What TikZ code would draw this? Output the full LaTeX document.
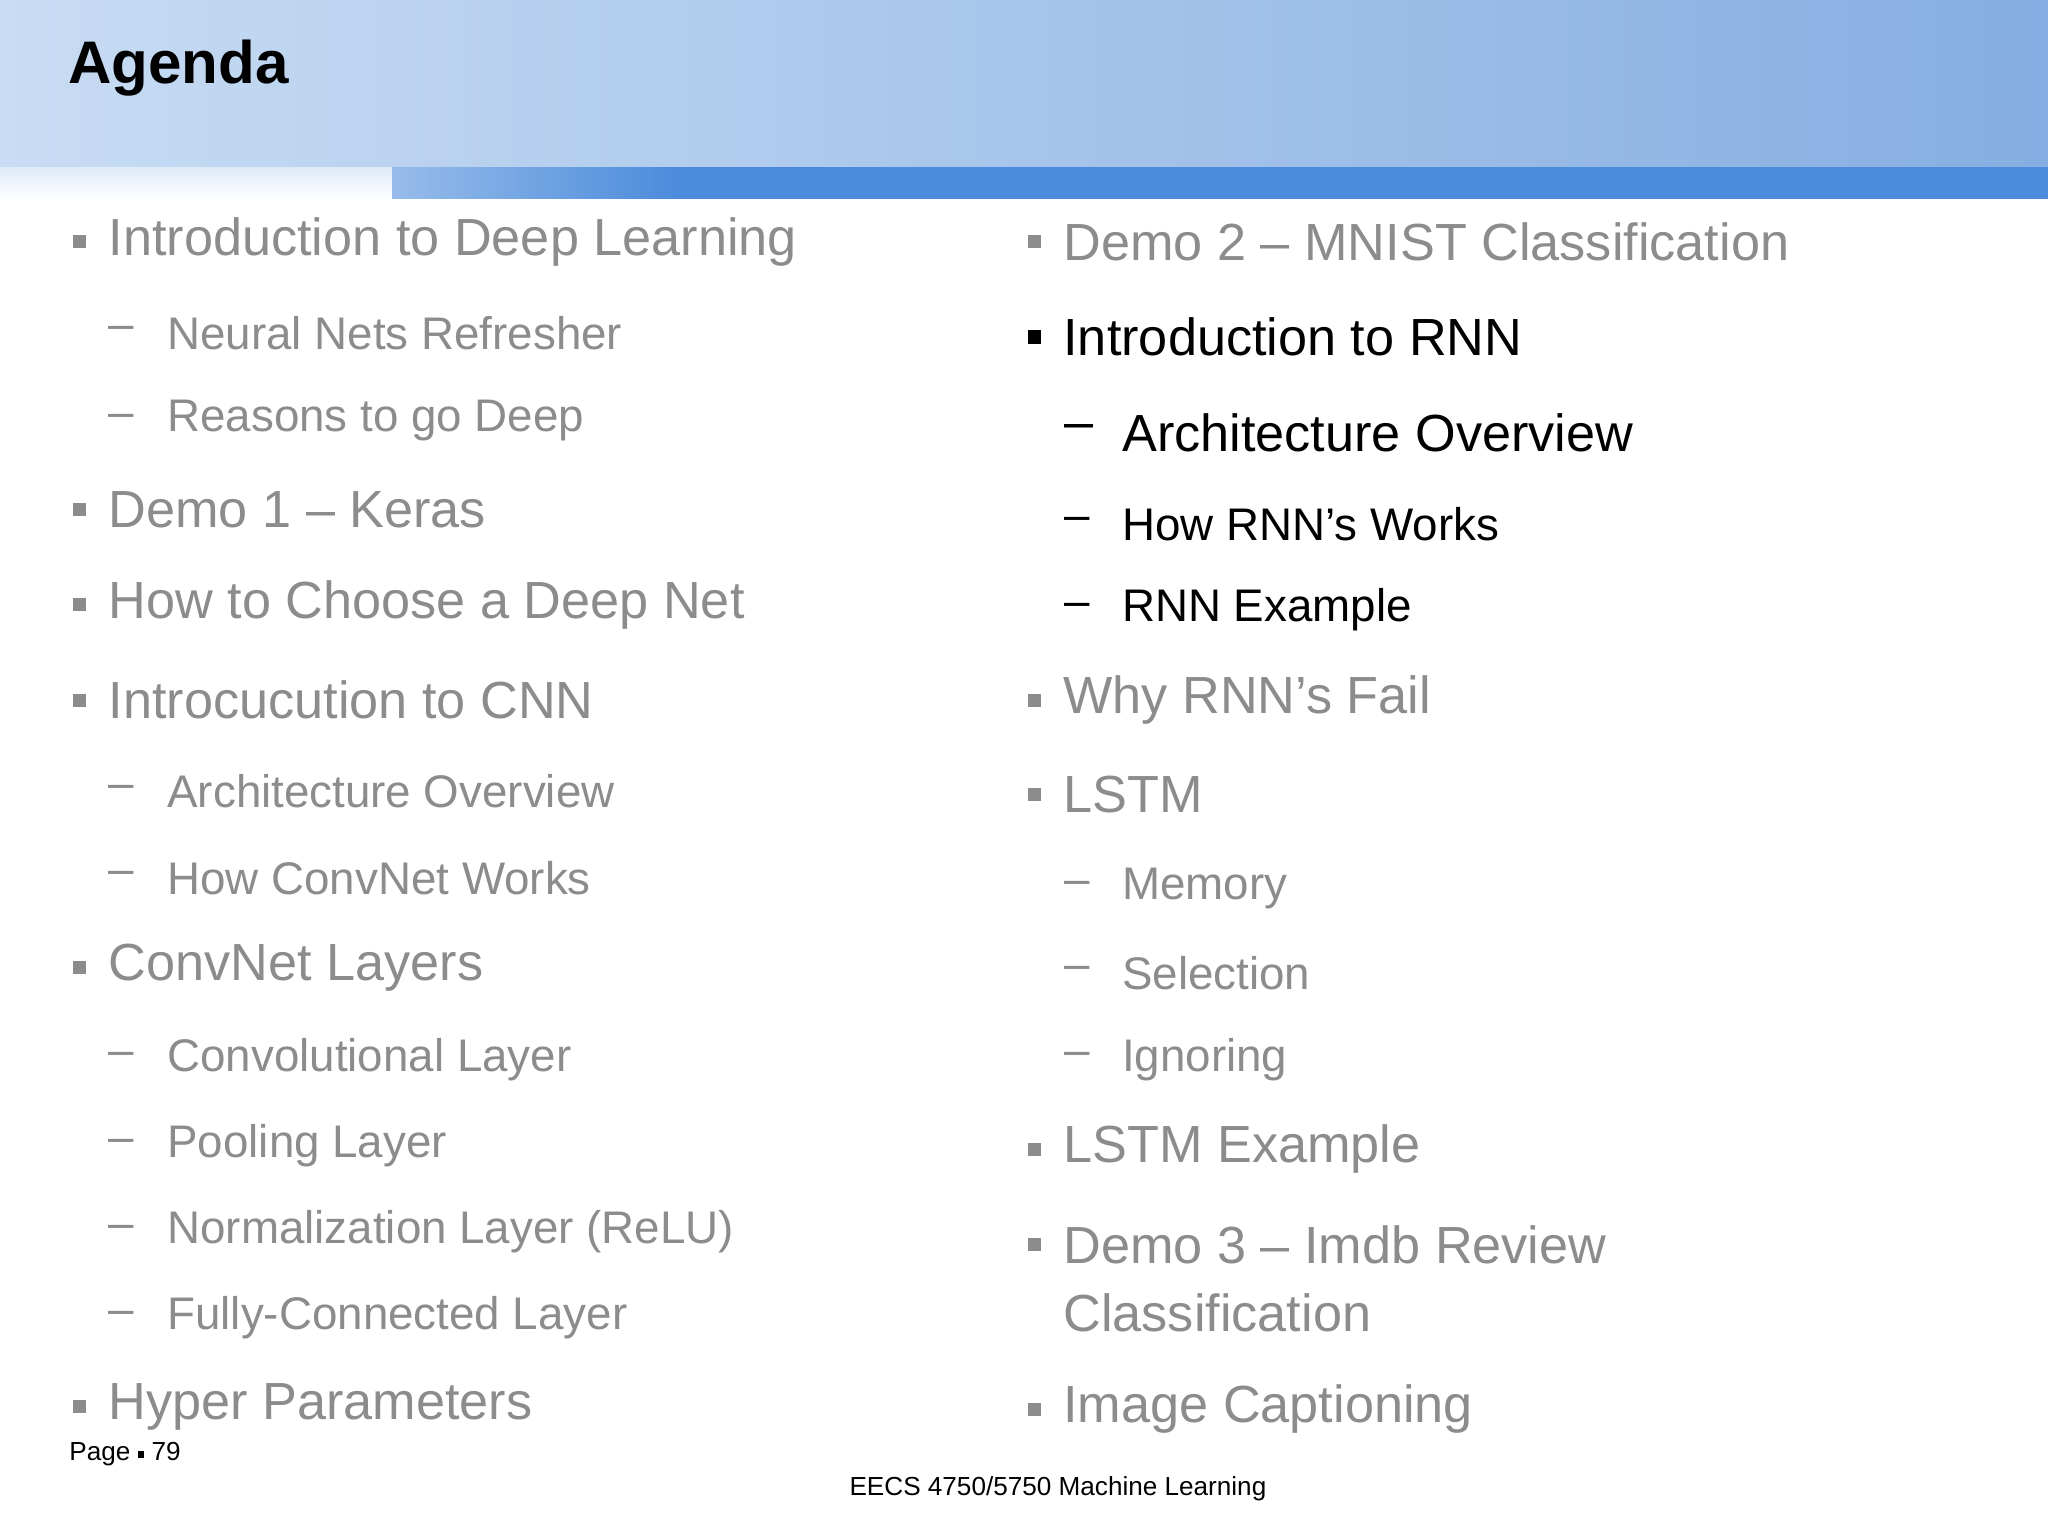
\documentclass[tikz,border=0pt]{standalone}
\usepackage{fontspec}
\setmainfont{Liberation Sans}
\definecolor{gt}{HTML}{8C8C8C}
\definecolor{hb1}{HTML}{C8DCF3}
\definecolor{hb2}{HTML}{86AEE2}
\definecolor{band}{HTML}{4B8BDB}
\begin{document}
\begin{tikzpicture}[x=1pt,y=-1pt,
 main/.style={anchor=west,inner sep=0pt,font=\fontsize{40}{44}\selectfont,text=gt},
 sub/.style={anchor=west,inner sep=0pt,font=\fontsize{35}{40}\selectfont,text=gt},
 blt/.style={fill=gt,minimum size=10pt,inner sep=0pt},
 dsh/.style={anchor=west,inner sep=0pt,font=\fontsize{35}{40}\selectfont,text=gt}]
\useasboundingbox (0,0) rectangle (1568,1176);
\shade[left color=hb1,right color=hb2] (0,0) rectangle (1568,128);
\shade[left color=white,right color=band] (0,128) rectangle (520,152);
\fill[band] (520,128) rectangle (1568,152);
\shade[top color=hb1!60,bottom color=white] (0,128) rectangle (300,152);
\node[anchor=west,inner sep=0pt,font=\fontsize{46}{50}\selectfont\bfseries] (title) at (52,52) {Agenda};
% left column
\foreach \t/\y in {Introduction to Deep Learning/185,Demo 1 – Keras/390,How to Choose a Deep Net/463,Introcucution to CNN/536,ConvNet Layers/741,Hyper Parameters/1077}{
 \node[blt] at (61,\y) {}; \node[main] at (83,\y) {\t};}
\foreach \t/\y in {Neural Nets Refresher/255,Reasons to go Deep/322,Architecture Overview/606,How ConvNet Works/672,Convolutional Layer/811,Pooling Layer/877,Normalization Layer (ReLU)/943,Fully-Connected Layer/1009}{
 \node[dsh] at (83,\y) {–}; \node[sub] at (128,\y) {\t};}
% right column
\foreach \t/\y in {Demo 2 – MNIST Classification/185,Why RNN’s Fail/536,LSTM/608,LSTM Example/880,Demo 3 – Imdb Review/953,Image Captioning/1079}{
 \node[blt] at (792,\y) {}; \node[main] at (814,\y) {\t};}
\node[main] at (814,1005) {Classification};
\node[blt,fill=black] at (792,258) {}; \node[main,text=black] at (814,258) {Introduction to RNN};
\node[dsh,text=black,font=\fontsize{40}{44}\selectfont] at (815,331) {–};
\node[main,text=black] at (859,331) {Architecture Overview};
\foreach \t/\y in {How RNN’s Works/401,RNN Example/467}{
 \node[dsh,text=black] at (815,\y) {–}; \node[sub,text=black] at (859,\y) {\t};}
\foreach \t/\y in {Memory/680,Selection/745,Ignoring/811}{
 \node[dsh] at (815,\y) {–}; \node[sub] at (859,\y) {\t};}
\node[anchor=west,inner sep=0pt,font=\fontsize{20}{24}\selectfont] (page) at (53,1113) {Page \raisebox{2pt}{\rule{5pt}{5pt}} 79};
\node[inner sep=0pt,font=\fontsize{20}{24}\selectfont] (foot) at (810,1140) {EECS 4750/5750 Machine Learning};
\end{tikzpicture}
\end{document}
